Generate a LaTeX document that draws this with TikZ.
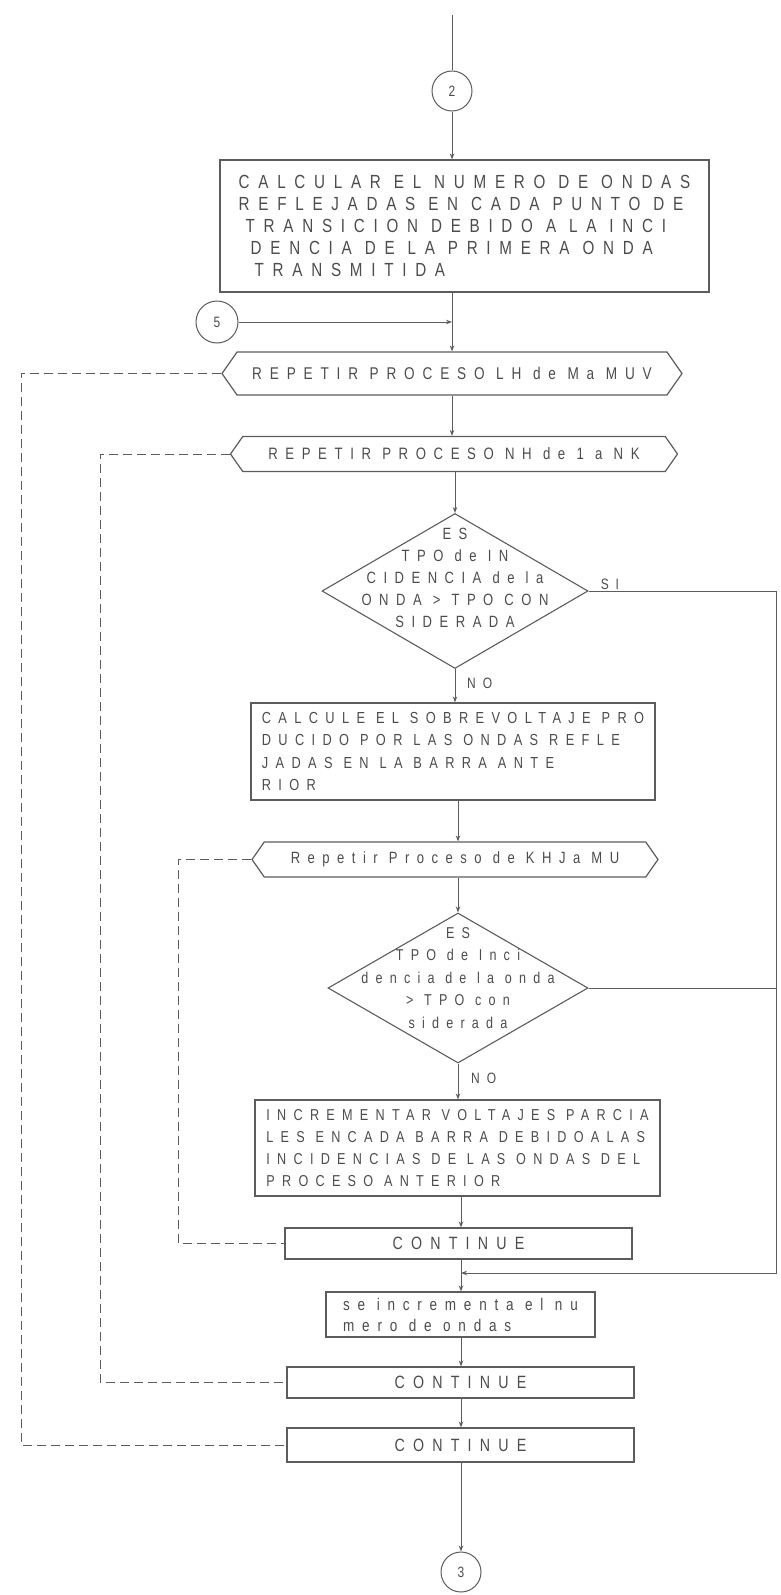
\documentclass[tikz,border=0pt]{standalone}
\usepackage{fontspec}
\setmainfont{Liberation Sans}
\newfontfamily\lett[FakeStretch=0.8,LetterSpace=46]{Liberation Sans}
\usetikzlibrary{shapes.geometric,shapes.symbols,arrows.meta}
\definecolor{ink}{HTML}{5C5C5C}
\definecolor{txt}{HTML}{4C4C4C}
\newcommand\myfs[2]{\fontsize{#1}{#2}\selectfont}
\begin{document}
\begin{tikzpicture}[x=1pt,y=-1pt,
  every node/.style={text=txt, inner sep=0pt},
  procbox/.style={draw=ink, line width=1.2pt, rectangle},
  hexbox/.style={draw=ink, line width=1.2pt, signal, signal to=east and west, signal pointer angle=110},
  decbox/.style={draw=ink, line width=1.1pt, diamond},
  conn/.style={circle, draw=ink, line width=1pt, minimum size=40pt, font=\lett\myfs{15}{17}},
  flow/.style={draw=ink, line width=1pt, -{Stealth[length=6pt,width=4.5pt]}},
  plain/.style={draw=ink, line width=1pt},
  loopline/.style={draw=ink, line width=1pt, dash pattern=on 9pt off 5pt},
  lab/.style={font=\lett\myfs{15}{17}}
]
\useasboundingbox (0,0) rectangle (781,1595);
% vertical guides of the main flow line (the scan drifts slightly)
\coordinate (v1) at (452,0);
\coordinate (v2) at (455,0);
\coordinate (v3) at (458,0);
\coordinate (v4) at (461,0);
\coordinate (rx) at (776,0);
\coordinate (lx1) at (21,0);
\coordinate (lx2) at (100,0);
\coordinate (lx3) at (178,0);
\coordinate (top) at (452,15);
\coordinate (j1) at (452,322);
\coordinate (j2) at (461,1273);

\node[conn] (c2) at (452,91) {2};
\node[procbox, minimum width=489pt, minimum height=132pt, align=left, font=\lett\myfs{19}{22}] (b1) at (464.5,226)
  {CALCULAR EL NUMERO DE ONDAS\\REFLEJADAS EN CADA PUNTO DE\\\hspace*{7pt}TRANSICION DEBIDO A LA INCI\\\hspace*{12pt}DENCIA DE LA PRIMERA ONDA\\\hspace*{16pt}TRANSMITIDA};
\node[conn, minimum size=42pt] (c5) at (217,322) {5};
\node[hexbox, minimum width=460pt, minimum height=43pt, font=\lett\myfs{17}{19}] (h1) at (452,373.5) {REPETIR PROCESO LH de Ma MUV};
\node[hexbox, minimum width=447pt, minimum height=35pt, font=\lett\myfs{16.5}{18}] (h2) at (454,454) {REPETIR PROCESO NH de 1 a NK};
\node[decbox, minimum width=266pt, minimum height=155pt] (d1) at (455,591) {};
\node[align=center, font=\lett\myfs{16.3}{22}] (d1t) at (455,578) {ES\\TPO de IN\\CIDENCIA de la\\ONDA > TPO CON\\SIDERADA};
\node[procbox, minimum width=404pt, minimum height=97pt, align=left, font=\lett\myfs{16}{22.3}] (b2) at (453,751.5)
  {CALCULE EL SOBREVOLTAJE PRO\\DUCIDO POR LAS ONDAS REFLE\\JADAS EN LA BARRA ANTE\\RIOR};
\node[hexbox, minimum width=406pt, minimum height=35pt, font=\lett\myfs{16.3}{18}] (h3) at (455,859.5) {Repetir Proceso de KHJa MU};
\node[decbox, minimum width=260pt, minimum height=150pt] (d2) at (458,988) {};
\node[align=center, font=\lett\myfs{15.7}{22.5}] (d2t) at (458,978) {ES\\TPO de Inci\\dencia de la onda\\> TPO con\\siderada};
\node[procbox, minimum width=405pt, minimum height=96pt, align=left, font=\lett\myfs{15.8}{21.7}] (b3) at (457.5,1148)
  {INCREMENTAR VOLTAJES PARCIA\\LES ENCADA BARRA DEBIDOALAS\\INCIDENCIAS DE LAS ONDAS DEL\\PROCESO ANTERIOR};
\node[procbox, minimum width=347pt, minimum height=31pt, font=\lett\myfs{17.8}{19}] (k1) at (458.5,1243.5) {CONTINUE};
\node[procbox, minimum width=269pt, minimum height=45pt, align=left, font=\lett\myfs{16.9}{21}] (b4) at (460.5,1314.5)
  {se incrementa el nu\\mero de ondas};
\node[procbox, minimum width=347pt, minimum height=31pt, font=\lett\myfs{17.8}{19}] (k2) at (460.5,1382.5) {CONTINUE};
\node[procbox, minimum width=347pt, minimum height=34pt, font=\lett\myfs{17.8}{19}] (k3) at (460.5,1445) {CONTINUE};
\node[conn] (c3) at (461,1572) {3};

\draw[plain] (top) -- (c2);
\draw[flow] (c2) -- (b1.north -| v1);
\draw[flow] (b1.south -| v1) -- (h1.north -| v1);
\draw[flow] (c5) -- (j1);
\draw[flow] (h1.south -| v1) -- (h2.north -| v1);
\draw[flow] (h2.south -| v2) -- (d1.north);
\draw[flow] (d1.east) -- (d1.east -| rx) -- (j2 -| rx) -- (j2);
\node[lab, anchor=south west] (si1) at ([xshift=12pt,yshift=1pt]d1.east) {SI};
\draw[flow] (d1.south) -- (b2.north -| v2);
\node[lab, anchor=west] (no1) at ([xshift=12pt,yshift=-14pt]d1.south) {NO};
\draw[flow] (b2.south -| v3) -- (h3.north -| v3);
\draw[flow] (h3.south -| v3) -- (d2.north);
\draw[plain] (d2.east) -- (d2.east -| rx);
\draw[flow] (d2.south) -- (b3.north -| v3);
\node[lab, anchor=west] (no2) at ([xshift=13pt,yshift=-15pt]d2.south) {NO};
\draw[flow] (b3.south -| v4) -- (k1.north -| v4);
\draw[flow] (k1.south -| v4) -- (b4.north -| v4);
\draw[flow] (b4.south -| v4) -- (k2.north -| v4);
\draw[flow] (k2.south -| v4) -- (k3.north -| v4);
\draw[flow] (k3.south -| v4) -- (c3);

\draw[loopline] (h1.west) -- (h1.west -| lx1) -- (k3.west -| lx1) -- (k3.west);
\draw[loopline] (h2.west) -- (h2.west -| lx2) -- (k2.west -| lx2) -- (k2.west);
\draw[loopline] (h3.west) -- (h3.west -| lx3) -- (k1.west -| lx3) -- (k1.west);
\end{tikzpicture}
\end{document}
